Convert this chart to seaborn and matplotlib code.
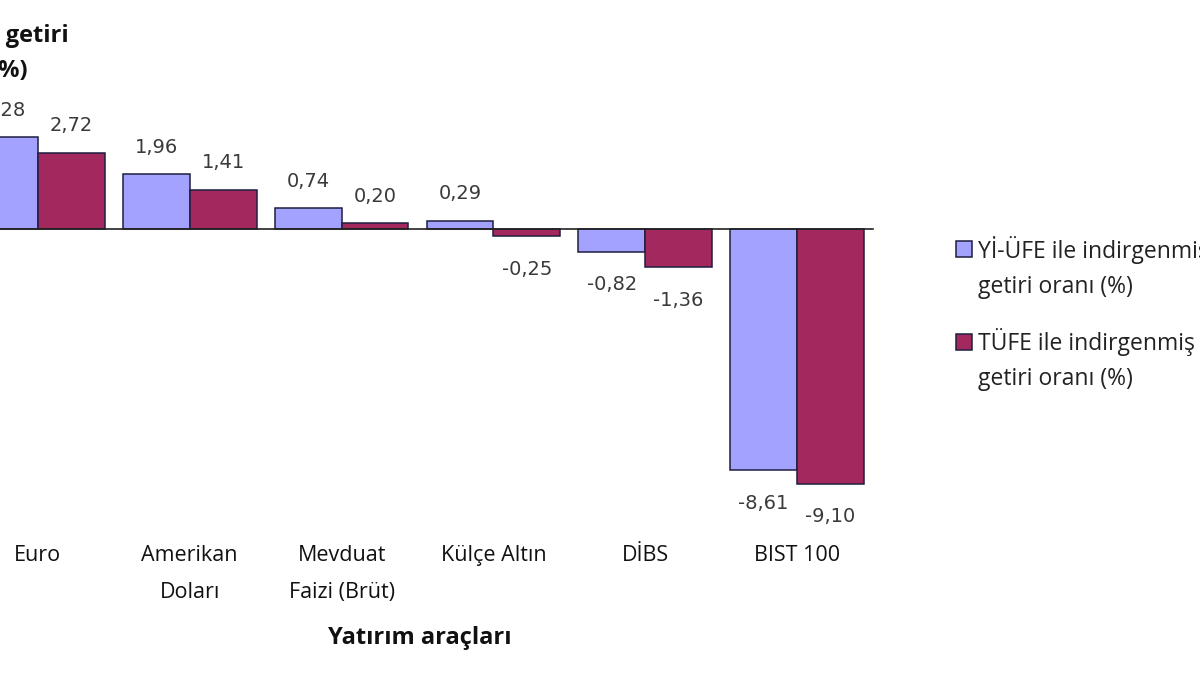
import numpy as np
import pandas as pd
import matplotlib
matplotlib.use("Agg")
import matplotlib.pyplot as plt
import matplotlib.transforms as mtransforms
from matplotlib.patches import Patch
import seaborn as sns

# ---------------------------
# Data
# ---------------------------
categories = ["Euro", "Amerikan\nDoları", "Mevduat\nFaizi (Brüt)", "Külçe Altın", "DİBS", "BIST 100"]
series_names = ["Yİ-ÜFE ile indirgenmiş\ngetiri oranı (%)", "TÜFE ile indirgenmiş\ngetiri oranı (%)"]
yiufe = [3.28, 1.96, 0.74, 0.29, -0.82, -8.61]
tufe = [2.72, 1.41, 0.20, -0.25, -1.36, -9.10]

blue = "#A3A3FF"
red = "#A3285E"
edge = "#1E1E40"

df = pd.DataFrame({
    "arac": categories * 2,
    "getiri": yiufe + tufe,
    "seri": [series_names[0]] * len(categories) + [series_names[1]] * len(categories),
})

sns.set_style("white")
plt.rcParams["font.family"] = ["Open Sans", "DejaVu Sans"]

fig = plt.figure(figsize=(12, 6.75), dpi=100)
# plot area runs off the left edge like the cropped original
ax = fig.add_axes([-38 / 1200, (675 - 509) / 675, 911 / 1200, 392 / 675])

sns.barplot(data=df, x="arac", y="getiri", hue="seri", order=categories,
            palette=[blue, red], saturation=1, width=0.88, edgecolor=edge,
            linewidth=1.1, legend=False, ax=ax)

ax.set_xlim(-0.5, len(categories) - 0.5)
ax.set_ylim(-10, 4)

# zero line with category boundary ticks
for s in ["top", "right", "left"]:
    ax.spines[s].set_visible(False)
ax.spines["bottom"].set_position(("data", 0))
ax.spines["bottom"].set_color("#222222")
ax.spines["bottom"].set_linewidth(1.2)
ax.set_xticks(np.arange(-0.5, len(categories), 1.0))
ax.set_xticklabels([])
ax.tick_params(axis="x", direction="out", length=6, width=1.2, color="#222222")
ax.set_yticks([])
ax.set_xlabel("")
ax.set_ylabel("")

# value labels
for cont, vals in zip(ax.containers, [yiufe, tufe]):
    for bar, v in zip(cont, vals):
        x = bar.get_x() + bar.get_width() / 2
        off = 27 if v >= 0 else -33
        ax.annotate(f"{v:.2f}".replace(".", ","), (x, v), xytext=(0, off),
                    textcoords="offset pixels", ha="center", va="center",
                    fontsize=14, family="DejaVu Sans", color="#3a3a3a",
                    annotation_clip=False)

# category labels along the bottom
trans = mtransforms.blended_transform_factory(ax.transData, fig.transFigure)
for i, c in enumerate(categories):
    ax.text(i, 1 - 545 / 675, c, transform=trans, ha="center", va="top",
            fontsize=15.5, linespacing=2.0, color="#111111")

fig.text(420 / 1200, 1 - 638 / 675, "Yatırım araçları", ha="center", va="center",
         fontsize=17, fontweight="bold", color="#111111")
fig.text(9 / 1200, 1 - 24 / 675, "Reel getiri\n(%)", ha="center", va="top",
         fontsize=17, fontweight="bold", linespacing=1.6, color="#111111")

# legend, handle sitting on the first line of each label
handles = [Patch(facecolor=blue, edgecolor=edge, linewidth=1.1),
           Patch(facecolor=red, edgecolor=edge, linewidth=1.1)]
leg = fig.legend(handles, [" \n" + n for n in series_names], loc="upper left",
                 bbox_to_anchor=(956 / 1200, 1 - 198 / 675), frameon=False,
                 fontsize=16.5, handlelength=0.7, handleheight=0.7,
                 handletextpad=0.25, borderpad=0, borderaxespad=0,
                 labelspacing=-0.37)
for t in leg.get_texts():
    t.set_linespacing(1.62)
    t.set_color("#222222")

fig.savefig("out.png", dpi=100)
